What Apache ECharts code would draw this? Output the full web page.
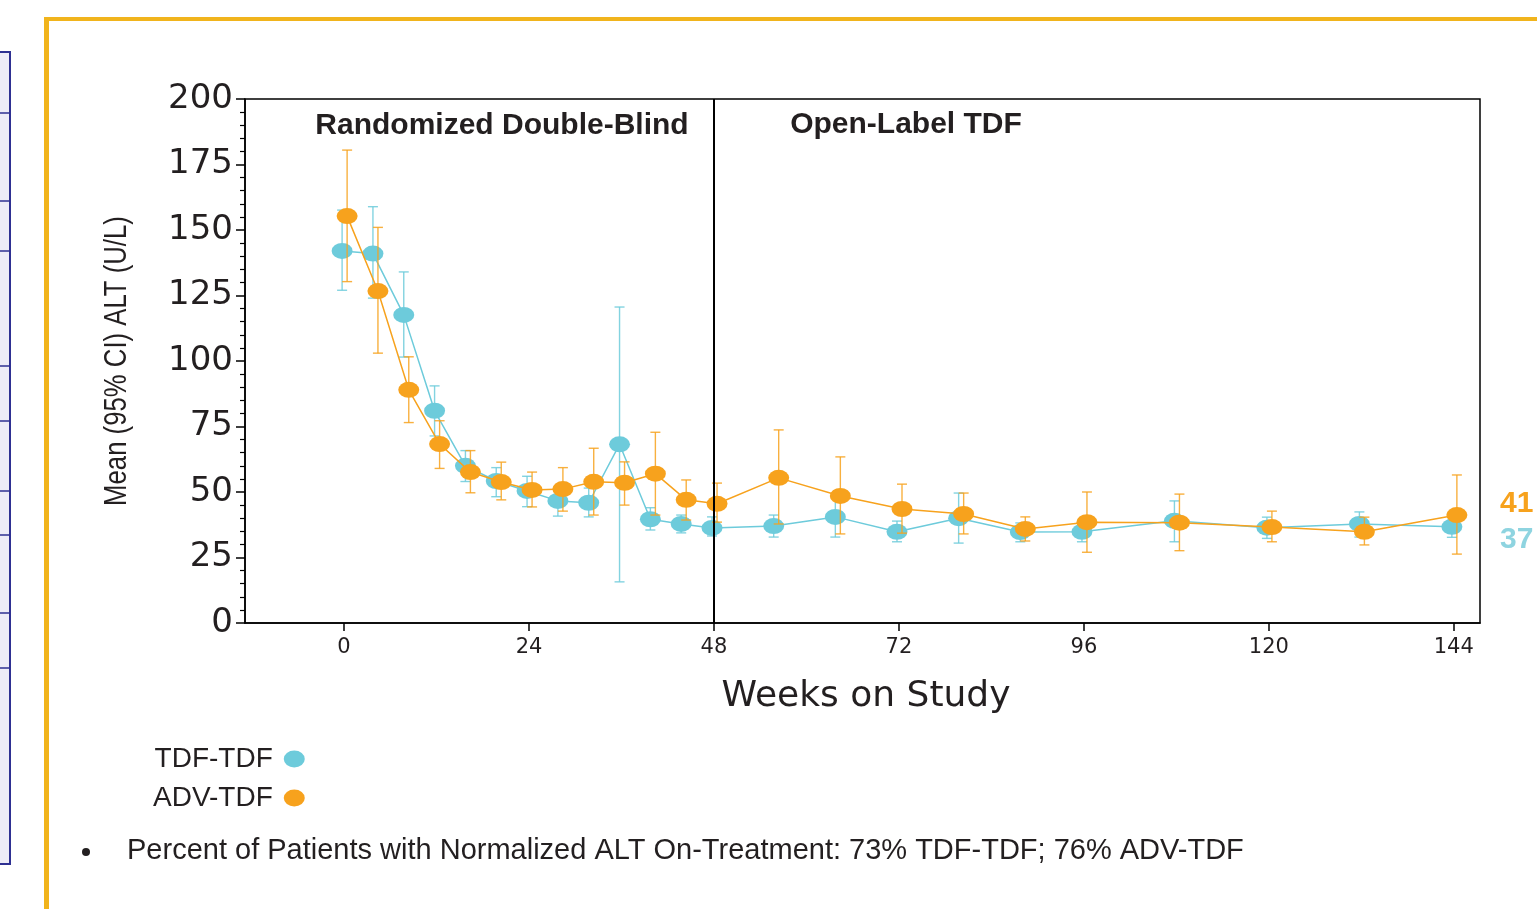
<!DOCTYPE html>
<html>
<head>
<meta charset="utf-8">
<script src="https://cdn.jsdelivr.net/npm/echarts@6/dist/echarts.min.js"></script>
<style>
html,body{margin:0;padding:0;background:#fff;}
#chart{width:1537px;height:909px;}
</style>
</head>
<body>
<div id="chart"></div>
<script>
// ---- data ----
const weeks = [0,4,8,12,16,20,24,28,32,36,40,44,48,56,64,72,80,88,96,108,120,132,144];
const xTicks = [0,24,48,72,96,120,144];

const tdfMean = [142,141,117.6,81,60,54.2,50.4,46.6,45.9,68.2,39.6,37.8,36.3,37,40.5,34.8,40,34.7,34.8,39,36.4,37.8,36.7];
const tdfLow  = [127,124,101.5,71.4,54,48.2,44.4,40.8,40.5,15.7,35.5,34.4,33.2,32.8,32.8,31,30.5,31,31,31,32.3,32.8,32.7];
const tdfHigh = [157.6,158.9,134,90.5,65.8,59.3,56,51.5,51.5,120.6,44,41.2,40.5,41.2,48.2,38.9,49.6,38.2,38.9,46.6,40.4,42.4,41.6];

const advMean = [155.3,126.7,89,68.3,57.6,53.8,50.8,51.1,53.9,53.5,57,47,45.5,55.4,48.5,43.5,41.6,35.9,38.5,38.3,36.6,34.8,41.2];
const advLow  = [130.3,103,76.5,59,49.7,47,44.3,42.7,41.2,45,41.2,39.3,38.5,37.8,34,34.3,34,31.3,27,27.6,31,29.8,26.3];
const advHigh = [180.5,151,101.6,77.2,65.8,61.4,57.6,59.3,66.7,61.5,72.8,54.6,53.4,73.7,63.4,53,49.6,40.5,50,49.2,42.7,40.4,56.5];

const phaseBoundary = 48;
const lastTdf = '37';
const lastAdv = '41';

// ---- style ----
const CYAN = '#6DCBDB';
const ORANGE = '#F7A21D';
const TXT = '#231F20';
const tdfOffset = -0.25;   // horizontal dodge (weeks)
const advOffset = 0.4;
const ELLIPSE = 'path://M0 10 A10 10 0 1 0 20 10 A10 10 0 1 0 0 10 Z';

const tdfPts = weeks.map((w,i)=>[w+tdfOffset, tdfMean[i]]);
const advPts = weeks.map((w,i)=>[w+advOffset, advMean[i]]);
const tdfErr = weeks.map((w,i)=>[w+tdfOffset, tdfLow[i], tdfHigh[i]]);
const advErr = weeks.map((w,i)=>[w+advOffset, advLow[i], advHigh[i]]);

function errRender(color){
  return function(params, api){
    const x = api.value(0);
    const lo = api.coord([x, api.value(1)]);
    const hi = api.coord([x, api.value(2)]);
    const hw = 5;
    const st = {stroke: color, lineWidth: 1.4, opacity: 0.85};
    return {type:'group', children:[
      {type:'line', shape:{x1:lo[0],y1:lo[1],x2:hi[0],y2:hi[1]}, style:st},
      {type:'line', shape:{x1:lo[0]-hw,y1:lo[1],x2:lo[0]+hw,y2:lo[1]}, style:st},
      {type:'line', shape:{x1:hi[0]-hw,y1:hi[1],x2:hi[0]+hw,y2:hi[1]}, style:st}
    ]};
  };
}

const chart = echarts.init(document.getElementById('chart'), null, {renderer:'canvas'});

// left side panel lines
const panelLines = [52,113,201,251,366,421,491,535,613,668];
const panelGraphics = [
  {type:'rect', shape:{x:-2,y:52,width:12,height:812}, style:{fill:'#EDECF7', stroke:'#2E3092', lineWidth:2}, z:1}
].concat(panelLines.map(y=>({type:'line', shape:{x1:0,y1:y,x2:10,y2:y}, style:{stroke:'#2E3092', lineWidth:1.5}, z:2})));

const option = {
  backgroundColor:'#ffffff',
  animation:false,
  grid:{left:245, right:57, top:99, bottom:286, show:true, borderColor:'#000', borderWidth:1.5, backgroundColor:'transparent'},
  xAxis:{
    type:'value', min:-12.85, max:147.4,
    splitLine:{show:false},
    axisLine:{show:true, onZero:false, lineStyle:{color:'#000', width:1.5}},
    axisTick:{show:true, length:8, inside:false, customValues:xTicks, lineStyle:{color:'#000', width:1.5}},
    axisLabel:{customValues:xTicks, margin:14, fontFamily:'DejaVu Sans', fontSize:21, color:TXT}
  },
  yAxis:{
    type:'value', min:0, max:200, interval:25,
    splitLine:{show:false},
    axisLine:{show:true, onZero:false, lineStyle:{color:'#000', width:1.5}},
    axisTick:{show:true, length:9, lineStyle:{color:'#000', width:1.5}},
    minorTick:{show:true, splitNumber:5, length:5, lineStyle:{color:'#000', width:1.2}},
    axisLabel:{margin:12, fontFamily:'DejaVu Sans', fontSize:34, color:TXT}
  },
  legend:{
    orient:'vertical', left:148, top:740, align:'right',
    itemWidth:21, itemHeight:17, itemGap:11,
    icon:ELLIPSE, symbolKeepAspect:false,
    textStyle:{fontFamily:'Liberation Sans', fontSize:28, lineHeight:28, color:TXT, padding:[0,6,0,0]},
    data:['TDF-TDF','ADV-TDF']
  },
  series:[
    {name:'tdfErr', type:'custom', renderItem:errRender(CYAN), data:tdfErr, z:1, silent:true,
     encode:{x:0, y:[1,2]}},
    {name:'TDF-TDF', type:'line', data:tdfPts, z:2, symbol:ELLIPSE, symbolSize:[21,16],
     itemStyle:{color:CYAN}, lineStyle:{color:CYAN, width:1.5},
     markLine:{silent:true, symbol:'none', label:{show:false},
       lineStyle:{color:'#000', width:2, type:'solid'},
       data:[{xAxis:phaseBoundary}]}},
    {name:'advErr', type:'custom', renderItem:errRender(ORANGE), data:advErr, z:3, silent:true,
     encode:{x:0, y:[1,2]}},
    {name:'ADV-TDF', type:'line', data:advPts, z:4, symbol:ELLIPSE, symbolSize:[21,16],
     itemStyle:{color:ORANGE}, lineStyle:{color:ORANGE, width:1.5}}
  ],
  graphic:[
    ...panelGraphics,
    {type:'rect', shape:{x:44,y:17,width:1500,height:4}, style:{fill:'#F1B41C'}, z:5},
    {type:'rect', shape:{x:44,y:17,width:5,height:900}, style:{fill:'#F1B41C'}, z:5},
    {type:'text', x:117, y:361, rotation:Math.PI/2, scaleX:0.83,
     style:{text:'Mean (95% CI) ALT (U/L)', fontFamily:'Liberation Sans', fontSize:31, fill:TXT, textAlign:'center', textVerticalAlign:'middle'}},
    {type:'text', x:866, y:697,
     style:{text:'Weeks on Study', fontFamily:'DejaVu Sans', fontSize:36, fill:TXT, textAlign:'center', textVerticalAlign:'middle'}},
    {type:'text', x:502, y:126,
     style:{text:'Randomized Double-Blind', fontFamily:'Liberation Sans', fontWeight:'bold', fontSize:30, fill:TXT, textAlign:'center', textVerticalAlign:'middle'}},
    {type:'text', x:906, y:125,
     style:{text:'Open-Label TDF', fontFamily:'Liberation Sans', fontWeight:'bold', fontSize:30, fill:TXT, textAlign:'center', textVerticalAlign:'middle'}},
    {type:'text', x:1500, y:504,
     style:{text:lastAdv, fontFamily:'Liberation Sans', fontWeight:'bold', fontSize:30, fill:ORANGE, textAlign:'left', textVerticalAlign:'middle'}},
    {type:'text', x:1500, y:540,
     style:{text:lastTdf, fontFamily:'Liberation Sans', fontWeight:'bold', fontSize:30, fill:'#8ED4E0', textAlign:'left', textVerticalAlign:'middle'}},
    {type:'circle', shape:{cx:86, cy:852, r:4}, style:{fill:TXT}},
    {type:'text', x:127, y:851,
     style:{text:'Percent of Patients with Normalized ALT On-Treatment: 73% TDF-TDF; 76% ADV-TDF', fontFamily:'Liberation Sans', fontSize:29, fill:TXT, textAlign:'left', textVerticalAlign:'middle'}}
  ]
};
chart.setOption(option);
</script>
</body>
</html>
